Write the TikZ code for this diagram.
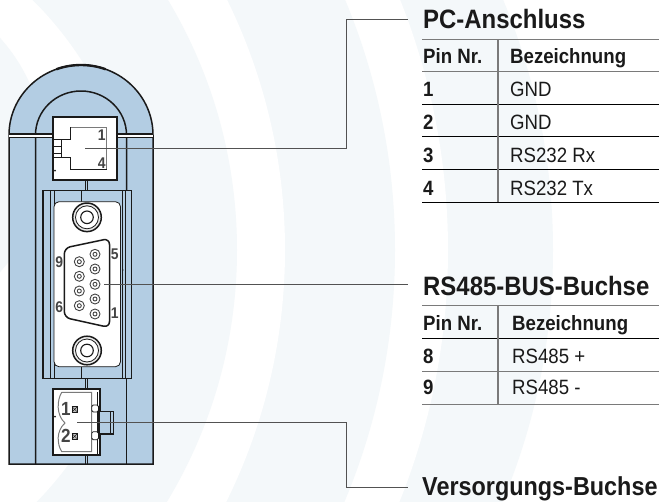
\documentclass[tikz,border=0pt]{standalone}
\usepackage{fontspec}
\setmainfont[FakeStretch=0.9]{Liberation Sans}
\definecolor{paleBand}{HTML}{F4F8FA}
\definecolor{bodyBlue}{HTML}{B3CDE3}
\definecolor{inkDark}{HTML}{1A1A1A}
\definecolor{inkGray}{HTML}{444444}
\definecolor{ruleGray}{HTML}{7A7A7A}
\newcommand{\titleSize}[0]{\fontsize{26.6}{27}\selectfont\bfseries}
\newcommand{\cellSize}[0]{\fontsize{20.7}{21}\selectfont}
\newcommand{\pinSize}[0]{\fontsize{15.5}{16}\selectfont\bfseries}

\begin{document}
\begin{tikzpicture}[x=1pt, y=-1pt]
  \tikzset{
    tabletitle/.style={anchor=base west, inner sep=0pt, text=inkDark, font=\titleSize},
    headcell/.style={anchor=base west, inner sep=0pt, text=inkDark, font=\cellSize\bfseries},
    pincell/.style={anchor=base west, inner sep=0pt, text=inkDark, font=\cellSize\bfseries},
    namecell/.style={anchor=base west, inner sep=0pt, text=inkDark, font=\cellSize},
    pinlabel/.style={inner sep=0pt, text=inkGray, font=\pinSize},
    outline/.style={draw=inkDark, line width=1.5pt},
    thinline/.style={draw=inkDark, line width=0.8pt},
    leader/.style={draw=black!68, line width=1pt},
    tablerule/.style={draw=black, line width=0.9pt},
    ringpin/.style={draw=inkGray, line width=0.9pt, fill=white}
  }
  \useasboundingbox (0,0) rectangle (659,501);

  % background bands
  \begin{scope}
    \clip (0,0) rectangle (659,501);
    \fill[white] (0,0) rectangle (659,501);
    \foreach \cx/\cy/\r/\tone in {-97/250/650/paleBand, -227/250/675/white, -255/250/650/paleBand,
        -283/250/568/white, -250/250/487/paleBand, -218/253/356/white, -130/155/175/paleBand}
      \fill[\tone] (\cx,\cy) circle[radius=\r pt];
  \end{scope}

  % housing
  \fill[bodyBlue] (9,464) -- (9,135) arc[start angle=180, end angle=0, x radius=72pt, y radius=70pt] -- (153,464) -- cycle;
  \draw[outline] (9,464) -- (9,135) arc[start angle=180, end angle=0, x radius=72pt, y radius=70pt] -- (153,464) -- cycle;
  \draw[inkDark, line width=2.4pt] (81,135) ++(110:72pt and 70pt) arc[start angle=110, end angle=70, x radius=72pt, y radius=70pt];
  \draw[outline] (35.5,464) -- (35.5,135) arc[start angle=180, end angle=0, x radius=45.5pt, y radius=44pt] -- (126.5,190);
  \draw[outline] (126.5,378) -- (126.5,464);
  \fill[white] (9,134.6) rectangle (153,137);
  \draw[thinline, line width=1.2pt] (9,134) -- (53,134) (117,134) -- (153,134);
  \draw[thinline, line width=1.2pt] (9,137.5) -- (53,137.5) (117,137.5) -- (153,137.5);
  \foreach \xa/\ya/\yb in {85/180/190, 87.7/180/190, 85/378/389, 87.7/378/389, 85/455/464, 87.7/455/464}
    \draw[thinline] (\xa,\ya) -- (\xa,\yb);

  % PC socket
  \draw[outline, line width=2pt, fill=white] (52.7,117.3) rectangle (117,180);
  \draw[draw=ruleGray, line width=1pt] (70.7,127.3) -- (106.7,127.3) -- (106.7,169.3);
  \draw[thinline] (106.7,169.3) -- (70.7,169.3) -- (70.7,157.3) -- (54,157.3);
  \draw[thinline] (70.7,127.3) -- (70.7,139.3) -- (54,139.3);
  \draw[thinline] (61.7,139.3) -- (61.7,157.3) (54,146) -- (61.7,146) (54,153.3) -- (61.7,153.3);
  \fill[inkDark] (55,170.7) circle (1);
  \node[pinlabel] (pcPinOne) at (101.7,135) {1};
  \node[pinlabel] (pcPinFour) at (101.7,163) {4};

  % D-sub frame and plate
  \draw[outline, line width=1.3pt] (43,190.7) rectangle (131.7,378.3);
  \foreach \xa in {50.5, 54, 122, 125}
    \draw[thinline] (\xa,191) -- (\xa,378);
  \draw[thinline] (81,190.7) -- (81,201.7) (81,366.7) -- (81,378);
  \draw[thinline, fill=white, rounded corners=5pt] (54,201.7) rectangle (120.5,366.7);
  \fill[inkDark] (122.7,270) circle (0.9);
  \foreach \sy in {217.3, 350.5} {
    \draw[outline, fill=black!8] (87,\sy) circle (14.3);
    \draw[thinline, fill=white] (87,\sy) circle (11.5);
    \draw[thinline, line width=1.1pt, fill=white] (87,\sy) circle (6.3);
  }
  \draw[outline, rounded corners=6pt] (64.3,248) -- (109.5,238.5) -- (109.5,327.5) -- (64.3,317.5) -- cycle;
  \foreach \py in {254.3, 269, 284.3, 299, 314} {
    \draw[ringpin] (95,\py) circle (5);
    \draw[ringpin] (95,\py) circle (2);
  }
  \foreach \py in {261.7, 276.3, 291, 305.7} {
    \draw[ringpin] (79.3,\py) circle (5);
    \draw[ringpin] (79.3,\py) circle (2);
  }
  \node[pinlabel] (busPinNine) at (59.3,262.3) {9};
  \node[pinlabel] (busPinSix) at (59.3,306.7) {6};
  \node[pinlabel] (busPinFive) at (114.7,254.3) {5};
  \node[pinlabel] (busPinOne) at (114.7,313.3) {1};

  % power plug
  \draw[outline, line width=2pt, fill=white] (52.7,389.3) rectangle (100,455);
  \draw[draw=ruleGray, line width=1pt] (61.7,392.3) -- (91.7,392.3) -- (91.7,451.7) -- (61.7,451.7)
    .. controls (57,444) and (56,431) .. (65,423) .. controls (56,415) and (57,400) .. (61.7,392.3);
  \draw[thinline] (97.5,392) -- (97.5,454);
  \foreach \py/\ph in {405/7, 431.7/8}
    \draw[thinline, fill=white, rounded corners=1.5pt] (91.7,\py) rectangle (98.5,\py+\ph);
  \draw[outline, fill=bodyBlue] (99,411.7) rectangle (113.3,434);
  \draw[thinline] (110,411.7) -- (110,434);
  \fill[inkDark] (55,416.7) circle (1);
  \foreach \py in {409.3, 436.3} {
    \draw[thinline, fill=black!25] (72,\py-2.7) rectangle (77.4,\py+2.7);
    \draw[thinline, line width=0.5pt] (72,\py-2.7) -- (77.4,\py+2.7) (72,\py+2.7) -- (77.4,\py-2.7);
  }
  \node[pinlabel, font=\fontsize{19}{19}\selectfont\bfseries] (plugPinOne) at (66,409.3) {1};
  \node[pinlabel, font=\fontsize{19}{19}\selectfont\bfseries] (plugPinTwo) at (66,436) {2};

  % leaders
  \coordinate (pcStart) at (85,148.5);
  \coordinate (pcKnee) at (346,19);
  \coordinate (pcEnd) at (408,19);
  \coordinate (busStart) at (104,284);
  \coordinate (busEnd) at (408,284);
  \coordinate (plugStart) at (77,422);
  \coordinate (plugKnee) at (346,487);
  \coordinate (plugEnd) at (408,487);
  \draw[leader] (pcStart) -| (pcKnee) -- (pcEnd);
  \draw[leader] (busStart) -- (busEnd);
  \draw[leader] (plugStart) -| (plugKnee) -- (plugEnd);

  % PC table
  \node[tabletitle] (pcTitle) at (423,28.5) {PC-Anschluss};
  \node[headcell] (pcPinHead) at (423,63.3) {Pin Nr.};
  \node[headcell] (pcNameHead) at (510,63.3) {Bezeichnung};
  \foreach \pin/\pinName/\rowY in {1/GND/96.7, 2/GND/129.7, 3/RS232 Rx/162.7, 4/RS232 Tx/195.7} {
    \node[pincell] (pcPin\pin) at (423,\rowY) {\pin};
    \node[namecell] (pcName\pin) at (510,\rowY) {\pinName};
  }
  \draw[tablerule, draw=ruleGray] (422,39.3) -- (659,39.3) (422,71) -- (659,71);
  \foreach \rowY in {104.3, 136.7, 169.3, 202}
    \draw[tablerule] (422,\rowY) -- (659,\rowY);
  \draw[tablerule, draw=ruleGray, line width=1.2pt] (498,39.3) -- (498,202);

  % RS485 table
  \node[tabletitle] (busTitle) at (423,295) {RS485-BUS-Buchse};
  \node[headcell] (busPinHead) at (423,330) {Pin Nr.};
  \node[headcell] (busNameHead) at (512,330) {Bezeichnung};
  \foreach \pin/\pinName/\rowY in {8/RS485 +/363.5, 9/RS485 -/394.5} {
    \node[pincell] (busPin\pin) at (423,\rowY) {\pin};
    \node[namecell] (busName\pin) at (512,\rowY) {\pinName};
  }
  \draw[tablerule, draw=ruleGray] (422,305.7) -- (659,305.7);
  \draw[tablerule] (422,338.3) -- (659,338.3);
  \draw[tablerule, draw=ruleGray] (422,371.7) -- (659,371.7) (422,404) -- (659,404);
  \draw[tablerule, draw=ruleGray, line width=1.2pt] (498,305.7) -- (498,404);

  % supply title
  \node[tabletitle, font=\fontsize{26}{27}\selectfont\bfseries] (plugTitle) at (422,495) {Versorgungs-Buchse};
\end{tikzpicture}
\end{document}
